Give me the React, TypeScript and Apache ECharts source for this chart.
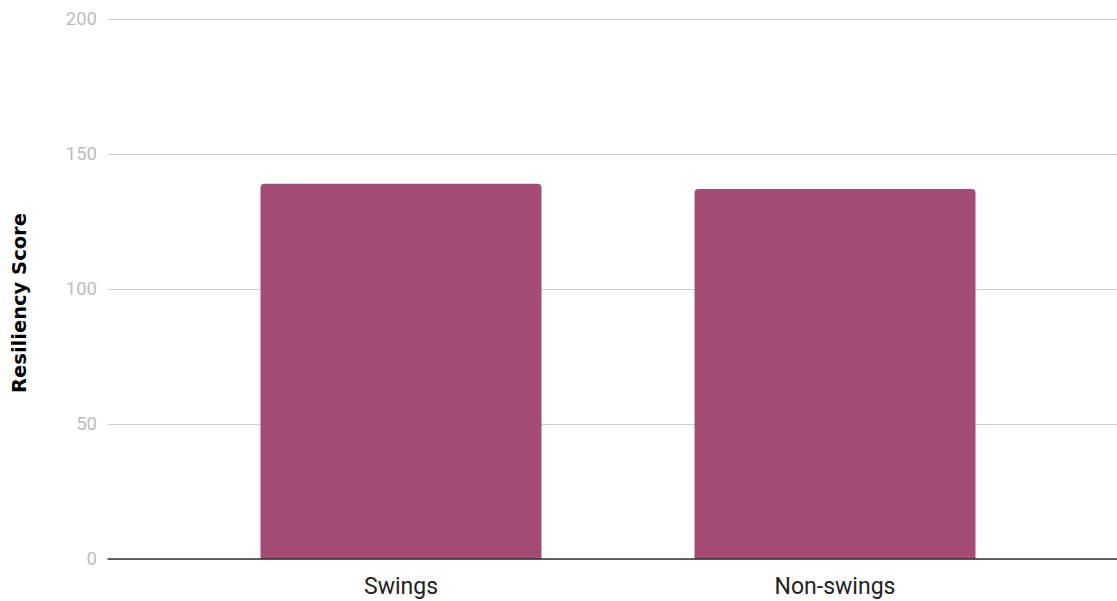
import React, { useEffect, useRef } from "react";
import * as echarts from "echarts";

const categories = ["Swings", "Non-swings"];
const resiliencyScores = [139, 137];
const yMin = 0;
const yMax = 200;
const yInterval = 50;
const yTitle = "Resiliency Score";

export default function App() {
  const ref = useRef<HTMLDivElement>(null);
  useEffect(() => {
    if (!ref.current) return;
    const chart = echarts.init(ref.current, undefined, { renderer: "svg" });
    chart.setOption({
      animation: false,
      grid: [
        { left: 108, right: 0, top: 19, bottom: 42 },
        { left: 184, right: 65, top: 19, bottom: 42 },
      ],
      xAxis: [
        {
          gridIndex: 0,
          type: "category",
          data: categories,
          axisLine: { show: true, lineStyle: { color: "#333333", width: 1.5 } },
          axisTick: { show: false },
          axisLabel: { show: false },
          z: 5,
        },
        {
          gridIndex: 1,
          type: "category",
          data: categories,
          axisLine: { show: false },
          axisTick: { show: false },
          axisLabel: {
            color: "#222222",
            fontSize: 23,
            fontFamily: "Roboto",
            margin: 16,
          },
        },
      ],
      yAxis: [
        {
          gridIndex: 0,
          type: "value",
          min: yMin,
          max: yMax,
          interval: yInterval,
          axisLine: { show: false },
          axisTick: { show: false },
          axisLabel: {
            color: "#bdbdbd",
            fontSize: 18.5,
            fontFamily: "Roboto",
            margin: 11,
          },
          splitLine: { lineStyle: { color: "#cccccc", width: 1 } },
        },
        {
          gridIndex: 1,
          type: "value",
          min: yMin,
          max: yMax,
          interval: yInterval,
          show: false,
          splitLine: { show: false },
        },
      ],
      graphic: [
        {
          type: "text",
          x: 19,
          y: 303,
          rotation: Math.PI / 2,
          style: {
            text: yTitle,
            fontSize: 19.5,
            fontWeight: "bold",
            fontFamily: "DejaVu Sans",
            fill: "#000000",
            align: "center",
            verticalAlign: "middle",
          },
        },
      ],
      series: [
        {
          type: "bar",
          xAxisIndex: 1,
          yAxisIndex: 1,
          data: resiliencyScores,
          barWidth: 281,
          itemStyle: { color: "#a54c76", borderRadius: [4, 4, 0, 0] },
        },
      ],
    });
    return () => chart.dispose();
  }, []);
  return (
    <div
      ref={ref}
      style={{ position: "absolute", left: 0, top: 0, width: 1117, height: 601 }}
    />
  );
}
